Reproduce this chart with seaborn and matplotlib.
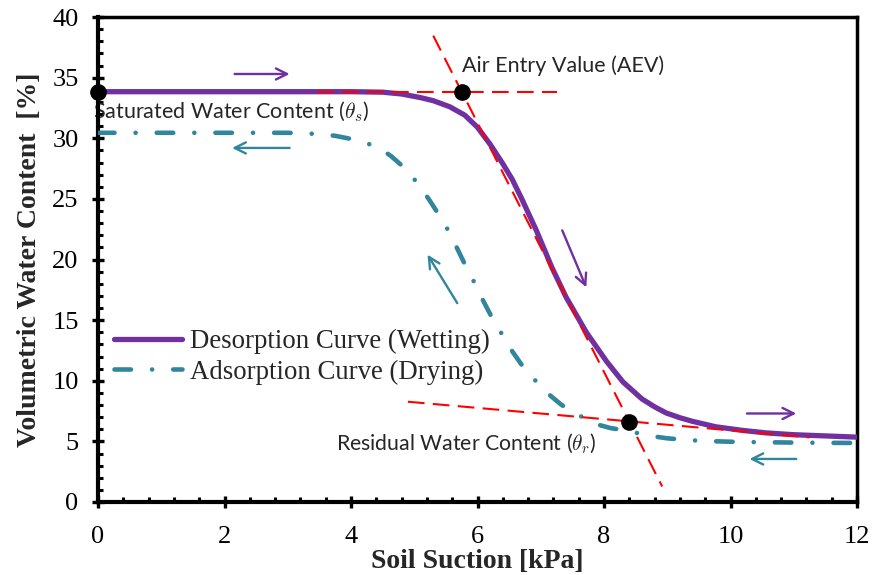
import numpy as np
import pandas as pd
import matplotlib
matplotlib.use("Agg")
import matplotlib.pyplot as plt
from matplotlib.ticker import MultipleLocator
import seaborn as sns

# Soil-water characteristic curves
desorption_x = [0, 1, 2, 3, 4, 4.5, 4.8, 5.1, 5.3, 5.56, 5.8, 6.0, 6.2, 6.4, 6.55,
                6.7, 6.93, 7.18, 7.4, 7.72, 8.04, 8.3, 8.6, 8.8, 8.98, 9.2, 9.4,
                9.77, 10.2, 10.56, 11.0, 11.5, 12.0]
desorption_y = [33.84, 33.84, 33.84, 33.84, 33.84, 33.8, 33.65, 33.35, 33.1, 32.6,
                31.9, 30.9, 29.5, 27.9, 26.6, 25.0, 22.4, 19.3, 16.9, 14.0, 11.6,
                9.9, 8.5, 7.85, 7.35, 6.95, 6.65, 6.2, 5.9, 5.7, 5.55, 5.45, 5.35]

adsorption_x = [0, 1, 2, 3, 3.5, 3.75, 4.14, 4.45, 4.64, 4.88, 5.08, 5.24, 5.4, 5.56,
                5.68, 5.81, 5.95, 6.08, 6.22, 6.38, 6.54, 6.7, 6.9, 7.1, 7.33, 7.56,
                7.82, 8.1, 8.4, 8.67, 9.0, 9.5, 10.0, 10.5, 11.0, 11.5, 12.0]
adsorption_y = [30.45, 30.45, 30.45, 30.45, 30.35, 30.2, 29.8, 29.2, 28.5, 27.4, 26.1,
                24.9, 23.6, 22.2, 20.9, 19.5, 18.1, 16.7, 15.3, 13.9, 12.5, 11.3,
                10.1, 9.0, 8.0, 7.3, 6.5, 6.1, 5.85, 5.5, 5.25, 5.05, 4.97, 4.93,
                4.9, 4.88, 4.87]

# Key points: saturated content, air entry value, residual content
key_x = [0.0, 5.75, 8.40]
key_y = [33.84, 33.84, 6.62]

# Construction lines
sat_line_x = [3.47, 7.25]
sat_line_y = [33.84, 33.84]
res_line_x = [4.90, 11.25]
res_line_y = [8.27, 5.33]
steep_line_x = [5.30, 8.92]

series_names = ["Desorption Curve (Wetting)", "Adsorption Curve (Drying)"]
x_label = "Soil Suction [kPa]"
y_label = "Volumetric Water Content  [%]"

PURPLE = "#7030A0"
TEAL = "#31859C"
RED = "#FF0000"

sns.set_style("white")
plt.rcParams["font.family"] = ["Liberation Serif", "DejaVu Serif"]
plt.rcParams["mathtext.fontset"] = "cm"

fig = plt.figure(figsize=(8.74, 5.75), dpi=100)
ax = fig.add_axes([98 / 874, 1 - 502 / 575, 759 / 874, 485 / 575])

des = pd.DataFrame({"suction": desorption_x, "theta": desorption_y})
ads = pd.DataFrame({"suction": adsorption_x, "theta": adsorption_y})

sns.lineplot(data=des, x="suction", y="theta", ax=ax, color=PURPLE, lw=3.8,
             label=series_names[0], zorder=3, solid_capstyle="round",
             solid_joinstyle="round")
sns.lineplot(data=ads, x="suction", y="theta", ax=ax, color=TEAL, lw=3.3,
             label=series_names[1], zorder=3, dashes=(3.6, 4.6, 0.01, 4.6),
             dash_capstyle="round", dash_joinstyle="round")

# Tangent construction lines
slope = (key_y[2] - key_y[1]) / (key_x[2] - key_x[1])
steep_line_y = [key_y[1] + slope * (xv - key_x[1]) for xv in steep_line_x]
for lx, ly in [(sat_line_x, sat_line_y), (res_line_x, res_line_y),
               (steep_line_x, steep_line_y)]:
    ax.plot(lx, ly, color=RED, lw=1.5, dashes=(8, 4), zorder=4)

ax.plot(key_x, key_y, "o", color="black", ms=11, zorder=6, clip_on=False)

# Direction arrows
arrows = [
    ((2.16, 35.3), (3.03, 35.3), PURPLE),
    ((3.03, 29.2), (2.12, 29.2), TEAL),
    ((5.68, 16.4), (5.21, 20.4), TEAL),
    ((7.34, 22.4), (7.72, 17.7), PURPLE),
    ((10.26, 7.3), (11.04, 7.3), PURPLE),
    ((11.04, 3.55), (10.30, 3.55), TEAL),
]
for start, end, col in arrows:
    ax.annotate("", xy=end, xytext=start,
                arrowprops=dict(arrowstyle="->,head_length=0.8,head_width=0.4",
                                color=col, lw=1.7, shrinkA=0, shrinkB=0),
                zorder=5)

note_font = ["Lato", "DejaVu Sans"]
ax.text(5.755, 35.49, "Air Entry Value (AEV)", family=note_font, fontsize=15.5,
        va="baseline", ha="left", zorder=5)
ax.text(-0.08, 31.67, r"Saturated Water Content ($\theta_s$)", family=note_font,
        fontsize=15.5, va="baseline", ha="left", zorder=2)
ax.text(3.77, 4.23, r"Residual Water Content ($\theta_r$)", family=note_font,
        fontsize=15.3, va="baseline", ha="left", zorder=5)

ax.set_xlim(0, 12)
ax.set_ylim(0, 40)
ax.xaxis.set_major_locator(MultipleLocator(2))
ax.xaxis.set_minor_locator(MultipleLocator(0.4))
ax.yaxis.set_major_locator(MultipleLocator(5))
ax.yaxis.set_minor_locator(MultipleLocator(1))

ax.tick_params(which="both", bottom=True, left=True, top=False, right=False)
ax.tick_params(which="major", direction="inout", length=8, width=2.4,
               labelsize=19, color="black", labelcolor="black")
ax.tick_params(axis="x", which="major", pad=13)
ax.tick_params(axis="y", which="major", pad=10)
ax.tick_params(which="minor", direction="in", length=3.5, width=2.2,
               color="black")

for side in ["left", "bottom"]:
    ax.spines[side].set_linewidth(3.0)
for side in ["top", "right"]:
    ax.spines[side].set_linewidth(2.5)
for sp in ax.spines.values():
    sp.set_color("black")
    sp.set_visible(True)

ax.set_xlabel(x_label, fontsize=20, fontweight="bold", labelpad=1)
ax.set_ylabel(y_label, fontsize=20, fontweight="bold", labelpad=7)

ax.legend(loc="upper left", bbox_to_anchor=(0.0, 0.39), frameon=False,
          fontsize=19.3, handlelength=2.55, handletextpad=0.3, labelspacing=0.2,
          borderaxespad=0.2)

fig.savefig("out.png", dpi=100)
